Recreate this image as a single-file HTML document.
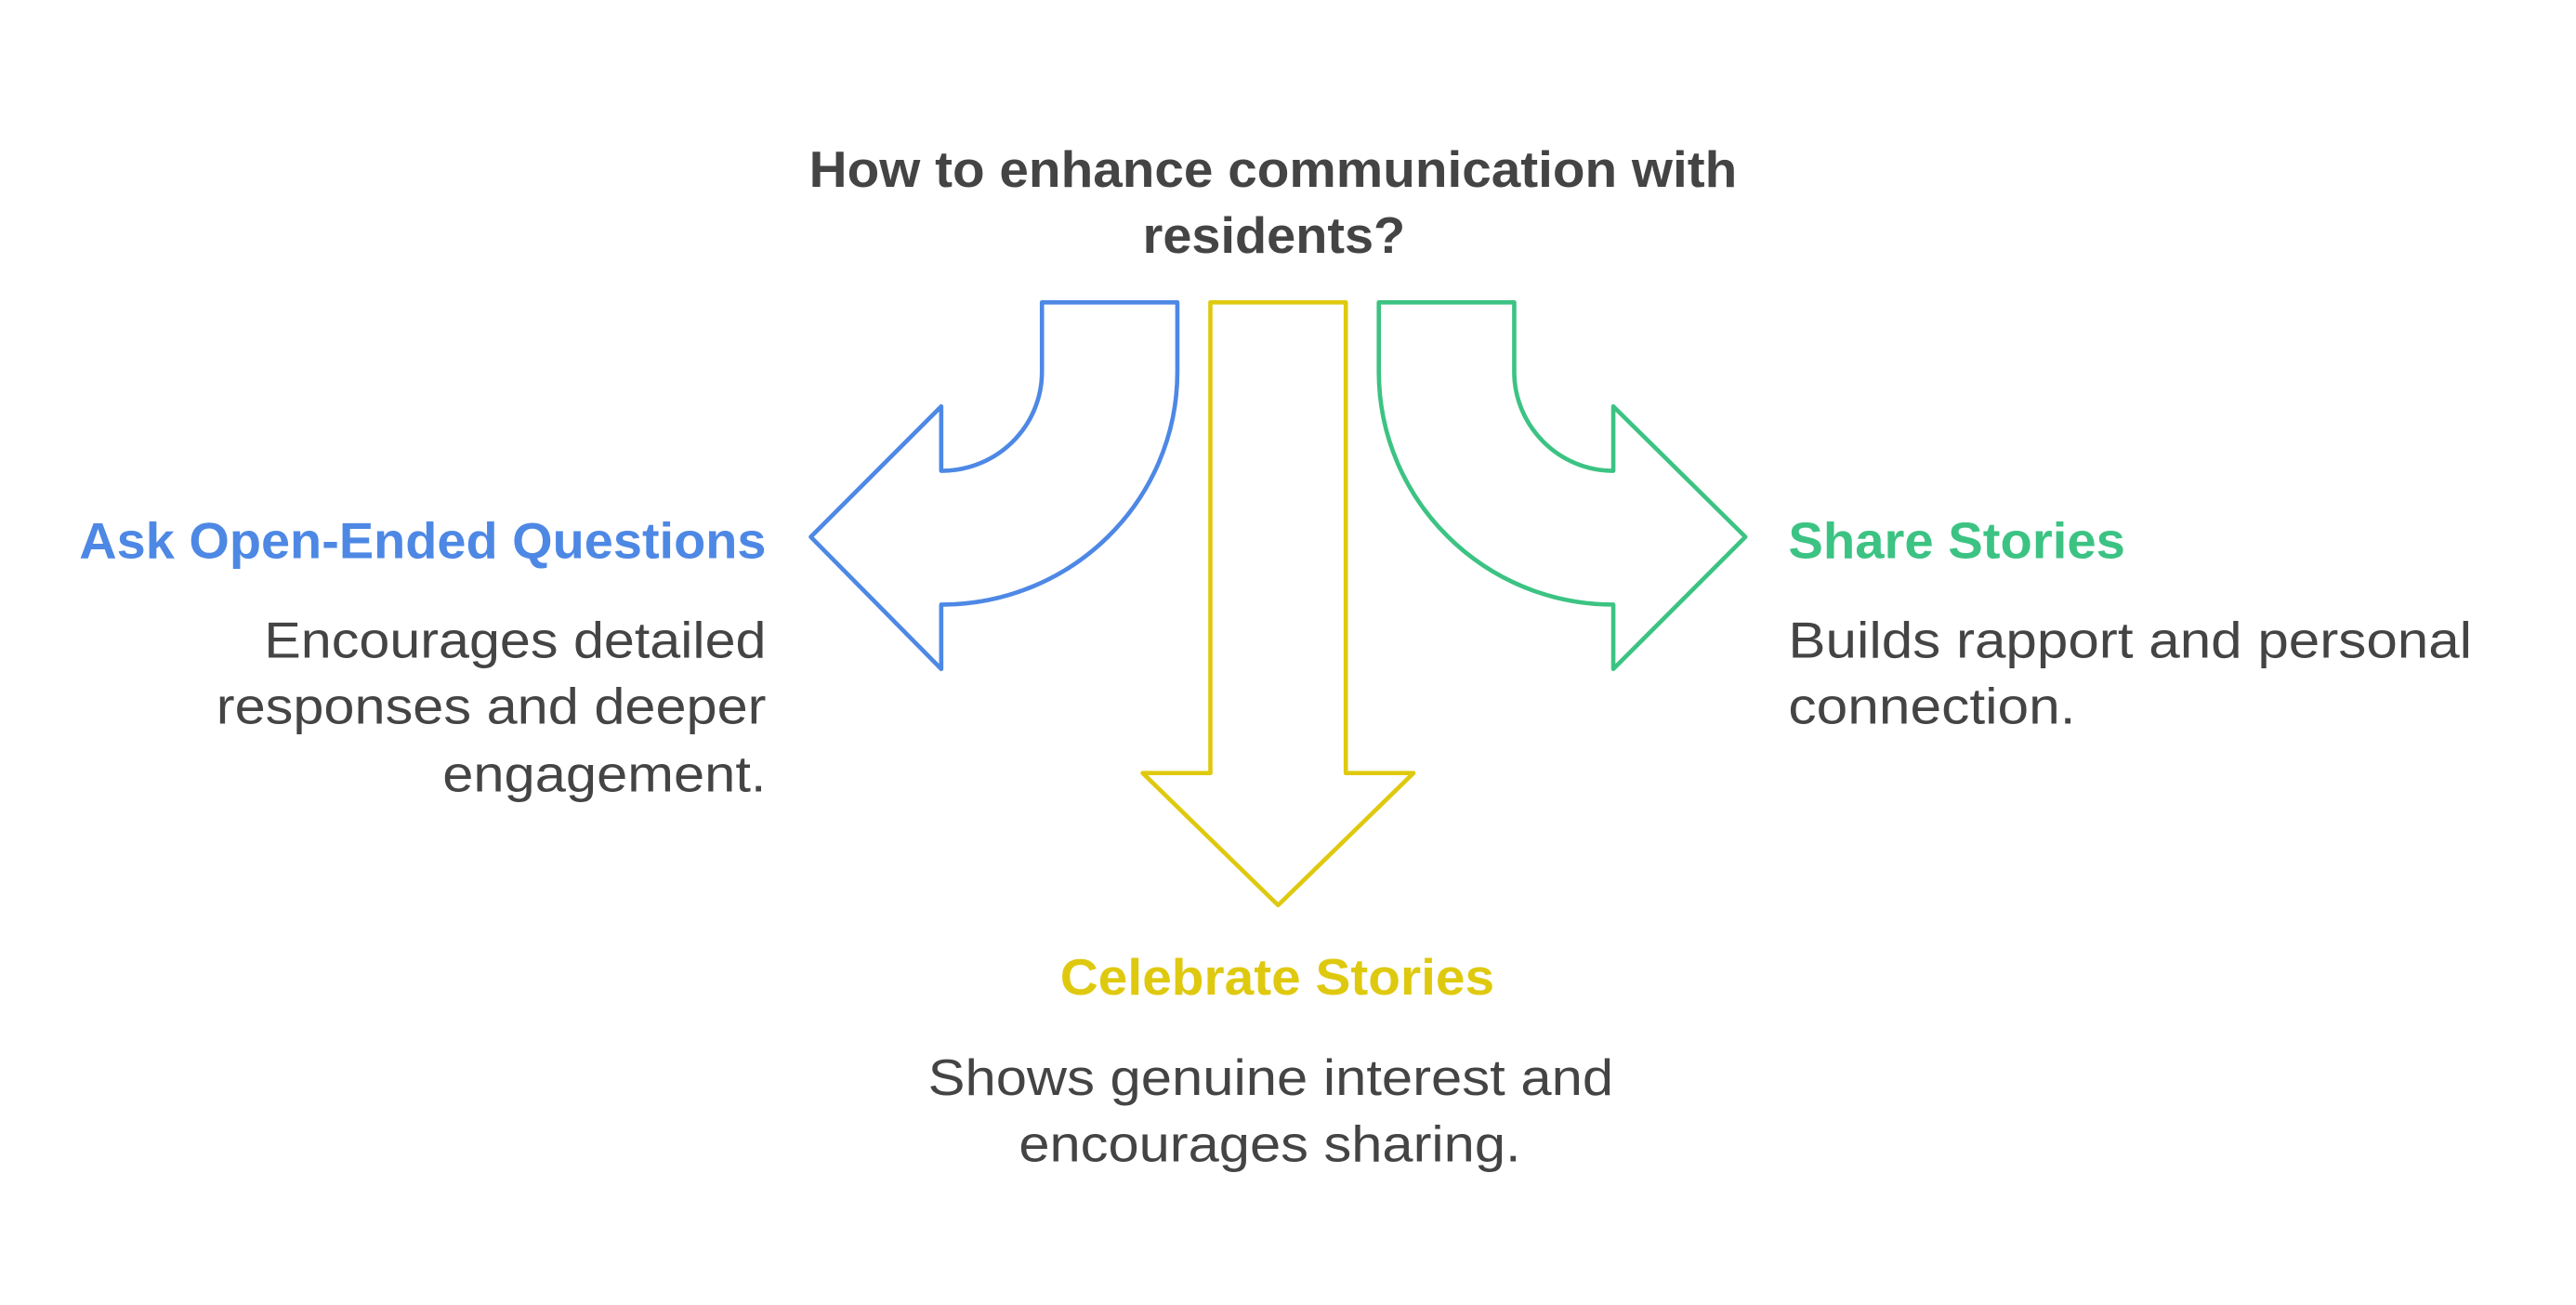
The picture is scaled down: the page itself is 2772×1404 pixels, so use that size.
<!DOCTYPE html>
<html><head><meta charset="utf-8"><style>html,body{margin:0;padding:0;background:#fff}svg{display:block}</style></head>
<body>
<svg width="2772" height="1404" viewBox="0 0 1560 790" xmlns="http://www.w3.org/2000/svg">
<g fill="none" stroke-width="2.6" stroke-linejoin="round">
<path stroke="#4e88e5" d="M631,183 L713,183 L713,225 C713,303 649,366 570,366 L570,405 L491,325 L570,246 L570,285 C604,285 631,258 631,225 Z"/>
<path stroke="#dfc90f" d="M733,183 L815,183 L815,468 L856,468 L774,548 L692,468 L733,468 Z"/>
<path stroke="#3cc383" d="M917,183 L835,183 L835,225 C835,303 899,366 977,366 L977,405 L1057,325 L977,246 L977,285 C944,285 917,258 917,225 Z"/>
</g>
<g font-family="Liberation Sans, Arial, sans-serif" font-size="31" lengthAdjust="spacingAndGlyphs">
<text x="490" y="113" font-weight="bold" fill="#444" textLength="562" lengthAdjust="spacingAndGlyphs">How to enhance communication with</text>
<text x="692" y="153" font-weight="bold" fill="#444" textLength="159" lengthAdjust="spacingAndGlyphs">residents?</text>
<text x="48" y="338" font-weight="bold" fill="#4e88e5" textLength="416" lengthAdjust="spacingAndGlyphs">Ask Open-Ended Questions</text>
<text x="160" y="398" fill="#444" textLength="304" lengthAdjust="spacingAndGlyphs">Encourages detailed</text>
<text x="131" y="438" fill="#444" textLength="333" lengthAdjust="spacingAndGlyphs">responses and deeper</text>
<text x="268" y="479" fill="#444" textLength="196" lengthAdjust="spacingAndGlyphs">engagement.</text>
<text x="1083" y="338" font-weight="bold" fill="#3cc383" textLength="204" lengthAdjust="spacingAndGlyphs">Share Stories</text>
<text x="1083" y="398" fill="#444" textLength="414" lengthAdjust="spacingAndGlyphs">Builds rapport and personal</text>
<text x="1083" y="438" fill="#444" textLength="174" lengthAdjust="spacingAndGlyphs">connection.</text>
<text x="642" y="602" font-weight="bold" fill="#dfc90f" textLength="263" lengthAdjust="spacingAndGlyphs">Celebrate Stories</text>
<text x="562" y="663" fill="#444" textLength="415" lengthAdjust="spacingAndGlyphs">Shows genuine interest and</text>
<text x="617" y="703" fill="#444" textLength="304" lengthAdjust="spacingAndGlyphs">encourages sharing.</text>
</g>
</svg>
</body></html>
